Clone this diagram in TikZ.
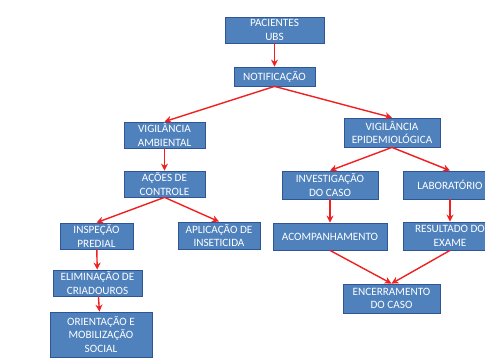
\documentclass[tikz,border=0pt]{standalone}
\usepackage{fontspec}
\setmainfont{Carlito}
\usetikzlibrary{arrows.meta}
\definecolor{boxfill}{HTML}{4F81BD}
\definecolor{boxline}{HTML}{2F5597}
\definecolor{arr}{HTML}{F02020}
\begin{document}
\begin{tikzpicture}[x=1pt,y=-1pt,
  box/.style={draw=boxline, line width=0.8pt, fill=boxfill, text=white, align=center,
    font=\fontsize{11.2}{13.6}\selectfont, inner sep=0pt},
  conn/.style={draw=arr, line width=1.4pt, -{Stealth[length=7pt,width=7pt]}}]
\useasboundingbox (0,0) rectangle (485,358);
\clip (0,0) rectangle (485,358);
\fill[white] (0,0) rectangle (485,358);
\node[box, minimum width=99pt, minimum height=26pt] (pac) at (274.5,30) {PACIENTES\\UBS};
\node[box, minimum width=81pt, minimum height=19pt] (not) at (274.5,76.5) {NOTIFICAÇÃO};
\node[box, minimum width=81pt, minimum height=26pt] (vamb) at (164.5,135) {VIGILÂNCIA\\AMBIENTAL};
\node[box, minimum width=81pt, minimum height=26pt] (acoes) at (164.5,184) {AÇÕES DE\\CONTROLE};
\node[box, minimum width=96pt, minimum height=29pt] (vepi) at (392,132.5) {VIGILÂNCIA\\EPIDEMIOLÓGICA};
\node[box, minimum width=96pt, minimum height=28pt] (inv) at (330,185) {INVESTIGAÇÃO\\DO CASO};
\node[box, minimum width=94pt, minimum height=28pt] (lab) at (450,185) {LABORATÓRIO};
\node[box, minimum width=73pt, minimum height=26pt] (insp) at (96.5,236) {INSPEÇÃO\\PREDIAL};
\node[box, minimum width=82pt, minimum height=27pt] (apl) at (219,235.5) {APLICAÇÃO DE\\INSETICIDA};
\node[box, minimum width=89pt, minimum height=26pt] (elim) at (97.5,283) {ELIMINAÇÃO DE\\CRIADOUROS};
\node[box, minimum width=102pt, minimum height=45pt] (ori) at (101,334.5) {ORIENTAÇÃO E\\MOBILIZAÇÃO\\SOCIAL};
\node[box, minimum width=114pt, minimum height=27pt] (acomp) at (330,236.5) {ACOMPANHAMENTO};
\node[box, minimum width=94pt, minimum height=28pt] (res) at (450,236) {RESULTADO DO\\EXAME};
\node[box, minimum width=97pt, minimum height=29pt] (enc) at (391.5,298.5) {ENCERRAMENTO\\DO CASO};
\draw[conn] (pac) -- (not);
\draw[conn] (not.south) -- (vamb.north);
\draw[conn] (not.south) -- (vepi.north);
\draw[conn] (vamb) -- (acoes);
\draw[conn] (acoes.south) -- (insp.north);
\draw[conn] (acoes.south) -- (apl.north);
\draw[conn] (insp) -- (elim);
\draw[conn] (elim) -- (ori);
\draw[conn] (vepi.south) -- (inv.north);
\draw[conn] (vepi.south) -- (lab.north);
\draw[conn] (inv) -- (acomp);
\draw[conn] (lab) -- (res);
\draw[conn] (acomp.south) -- (enc.north);
\draw[conn] (res.south) -- (enc.north);
\end{tikzpicture}
\end{document}
